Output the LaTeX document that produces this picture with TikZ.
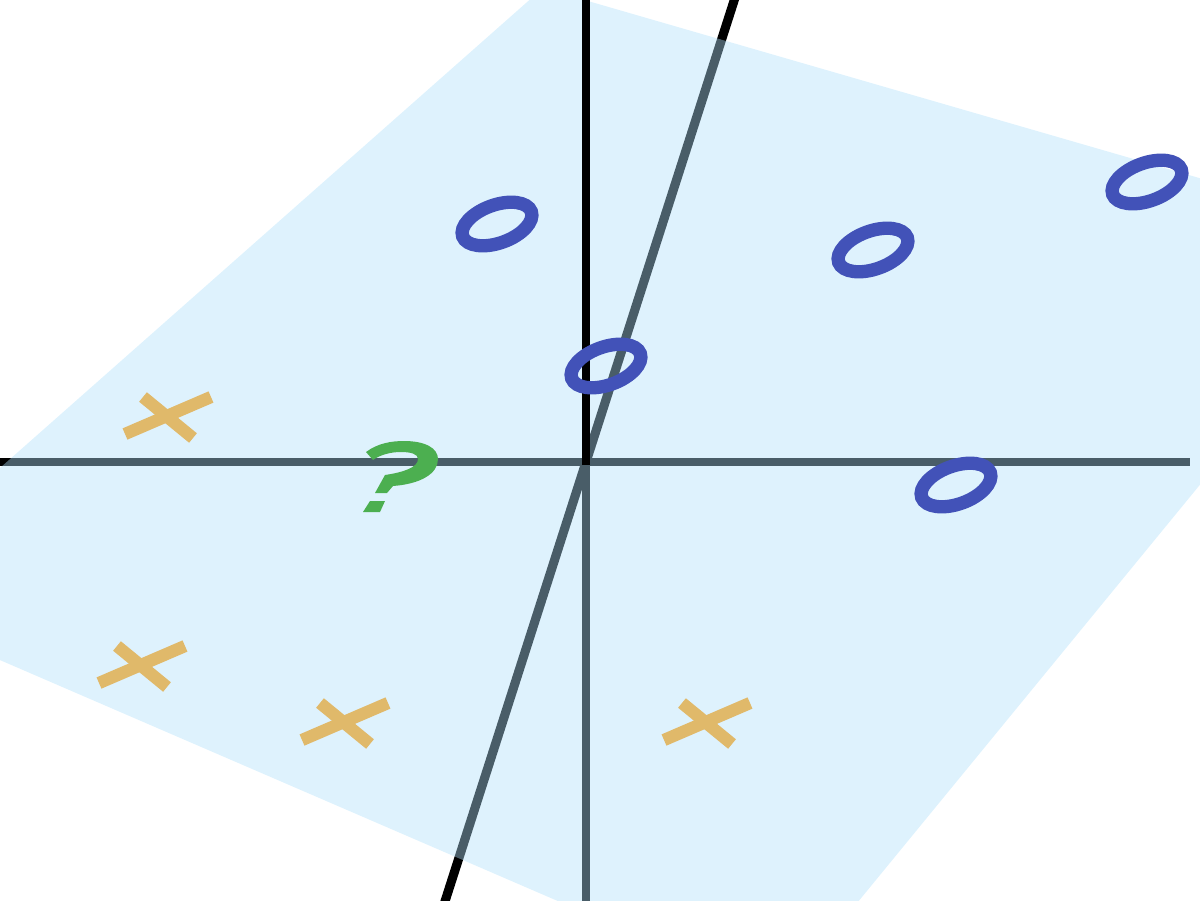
\documentclass[tikz,border=0pt]{standalone}
\definecolor{planecol}{rgb}{0.69,0.88,0.98}
\definecolor{ringblue}{RGB}{66,82,184}
\definecolor{crossyel}{RGB}{224,185,106}
\definecolor{qgreen}{RGB}{76,175,80}
\begin{document}
\begin{tikzpicture}[x=0.75pt,y=-0.75pt,
  axis/.style={line width=6pt, draw=black},
  slantaxis/.style={line width=6.8pt, draw=black},
  plane/.style={fill=planecol, fill opacity=0.42},
  ring/.style={draw=ringblue, line width=10pt},
  crossmark/.style={draw=crossyel, line width=9.2pt},
  omark/.pic={\draw[ring, rotate=20] (0,0) ellipse (36.5 and 19);},
  xmark/.pic={\draw[crossmark] (-43,18) -- (43,-19);
              \draw[crossmark] (-25,-19) -- (25,22);}]
\useasboundingbox (0,0) rectangle (1200,900);
\clip (0,0) rectangle (1200,900);
% axis end points
\coordinate (O) at (586,462);
\coordinate (Oz) at (586,465);
\coordinate (zt) at (586,-20);
\coordinate (zb) at (586,920);
\coordinate (xl) at (-20,462);
\coordinate (xr) at (1190,462);
\coordinate (yt) at (740.7,-20);
\coordinate (yb) at (439,920);
% axes behind the plane
\draw[axis] (xl) -- (xr);
\draw[axis] (zt) -- (zb);
\draw[slantaxis] (yb) -- (yt);
% the plane
\path[plane] (543,-12) -- (1403,237) -- (780,997) -- (-146,597) -- cycle;
% upper z axis in front of the plane
\draw[axis] (Oz) -- (zt);
% rings
\pic at (497,224) {omark};
\pic at (606,366) {omark};
\pic at (873,250) {omark};
\pic at (1147,182) {omark};
\pic at (956,485) {omark};
% crosses
\pic at (168,416) {xmark};
\pic at (142,665) {xmark};
\pic at (345,722) {xmark};
\pic at (707,722) {xmark};
% question mark
\fill[qgreen] (366,452) .. controls (378,443) and (392,441) .. (404,441)
  .. controls (425,441) and (438,448) .. (438,459)
  .. controls (438,474) and (420,484) .. (393,486)
  -- (387,493) -- (375,493) -- (385,475)
  .. controls (405,472) and (418,467) .. (418,459)
  .. controls (418,454) and (411,452) .. (401,452)
  .. controls (390,452) and (380,455) .. (373,460) -- cycle;
\fill[qgreen] (370,501) -- (385,501) -- (380,512) -- (363,512) -- cycle;
\end{tikzpicture}
\end{document}
